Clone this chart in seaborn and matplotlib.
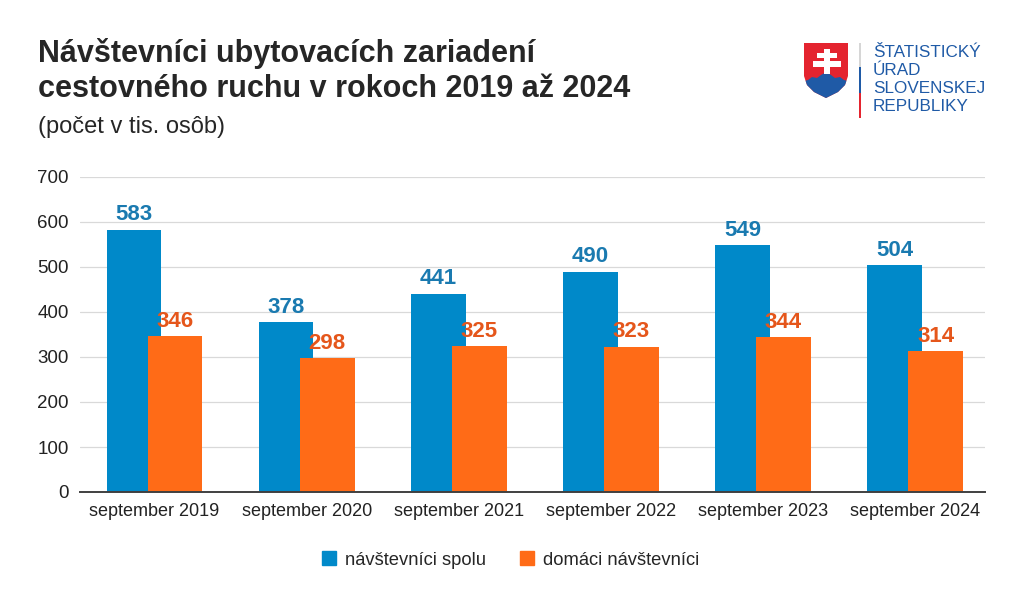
import matplotlib.pyplot as plt
import matplotlib.patches as mpatches
import numpy as np
import pandas as pd
import seaborn as sns

# data
months = ['september 2019', 'september 2020', 'september 2021',
          'september 2022', 'september 2023', 'september 2024']
spolu = [583, 378, 441, 490, 549, 504]
domaci = [346, 298, 325, 323, 344, 314]
series = ['návštevníci spolu', 'domáci návštevníci']

blue = '#0089C9'
orange = '#FF6B17'
blue_lbl = '#1A7AB0'
orange_lbl = '#E5561B'
logo_blue = '#1F5AA6'
logo_red = '#E4242F'

df = pd.DataFrame({
    'mesiac': months * 2,
    'hodnota': spolu + domaci,
    'rad': [series[0]] * len(months) + [series[1]] * len(months),
})

sns.set_style('white')
plt.rcParams['font.family'] = ['Liberation Sans', 'DejaVu Sans']

W, H = 1024, 605
fig = plt.figure(figsize=(W / 100, H / 100), dpi=100)


def px(x, y):
    return (x / W, 1 - y / H)


ax = fig.add_axes([80 / W, 1 - 492 / H, (985 - 80) / W, (492 - 177) / H])

sns.barplot(data=df, x='mesiac', y='hodnota', hue='rad', hue_order=series,
            palette=[blue, orange], width=0.54, saturation=1, linewidth=0,
            ax=ax, legend=False)

# widen the bars so they overlap like in the original
for cont in ax.containers:
    for p in cont.patches:
        c = p.get_x() + p.get_width() / 2
        p.set_width(0.36)
        p.set_x(c - 0.18)

for cont, col in zip(ax.containers, [blue_lbl, orange_lbl]):
    ax.bar_label(cont, fmt='%d', padding=3, color=col, fontsize=16,
                 fontweight='bold')

ax.set_ylim(0, 700)
ax.set_xlim(-0.49, 5.46)
ax.set_yticks(np.arange(0, 701, 100))
ax.set_xlabel('')
ax.set_ylabel('')
ax.grid(axis='y', color='#D9D9D9', linewidth=0.9)
ax.set_axisbelow(True)
for s in ['top', 'right', 'left']:
    ax.spines[s].set_visible(False)
ax.spines['bottom'].set_color('#404040')
ax.spines['bottom'].set_linewidth(1.4)
ax.tick_params(axis='y', length=0, pad=8, labelsize=13.5, labelcolor='#222222')
ax.tick_params(axis='x', length=0, pad=8, labelsize=13, labelcolor='#222222')

handles = [mpatches.Patch(color=blue), mpatches.Patch(color=orange)]
fig.legend(handles, series, loc='center', bbox_to_anchor=(0.4985, 1 - 560 / H),
           ncol=2, frameon=False, handlelength=0.75, handleheight=0.75,
           handletextpad=0.5, columnspacing=1.85, fontsize=13.2)

# title
fig.text(*px(38, 38), 'Návštevníci ubytovacích zariadení\ncestovného ruchu v rokoch 2019 až 2024',
         fontsize=22, fontweight='bold', va='top', ha='left', linespacing=1.2)
fig.text(*px(38, 116), '(počet v tis. osôb)', fontsize=17, va='top', ha='left')

# logo
shield = mpatches.Polygon([px(804, 43), px(848, 43), px(848, 76), px(845, 85),
                           px(838, 92), px(826, 98), px(814, 92), px(807, 85),
                           px(804, 76)], closed=True, transform=fig.transFigure,
                          facecolor=logo_red, edgecolor='none')
fig.patches.append(shield)
hills = mpatches.Polygon([px(800, 102), px(800, 82), px(808, 80), px(812, 77),
                          px(817, 78), px(821, 75), px(826, 72), px(831, 75),
                          px(835, 78), px(840, 77), px(844, 80), px(852, 82),
                          px(852, 102)], closed=True,
                         transform=fig.transFigure, facecolor=logo_blue,
                         edgecolor='none')
hills.set_clip_path(shield)
fig.patches.append(hills)
for (x0, y0, x1, y1) in [(824, 49, 830, 74), (817, 53, 837, 58), (813, 61, 841, 67)]:
    r = mpatches.Rectangle(px(x0, y1), (x1 - x0) / W, (y1 - y0) / H,
                           transform=fig.transFigure, facecolor='white',
                           edgecolor='none')
    fig.patches.append(r)
for (y0, y1, col) in [(43, 67, '#D6D6D6'), (67, 93, logo_blue), (93, 118, logo_red)]:
    r = mpatches.Rectangle(px(859, y1), 2 / W, (y1 - y0) / H,
                           transform=fig.transFigure, facecolor=col,
                           edgecolor='none')
    fig.patches.append(r)
logo_lines = ['ŠTATISTICKÝ', 'ÚRAD', 'SLOVENSKEJ', 'REPUBLIKY']
for i, t in enumerate(logo_lines):
    fig.text(*px(873, 57 + 18 * i), t, fontsize=12.3, color=logo_blue,
             va='baseline', ha='left')

fig.savefig('out.png', dpi=100)
